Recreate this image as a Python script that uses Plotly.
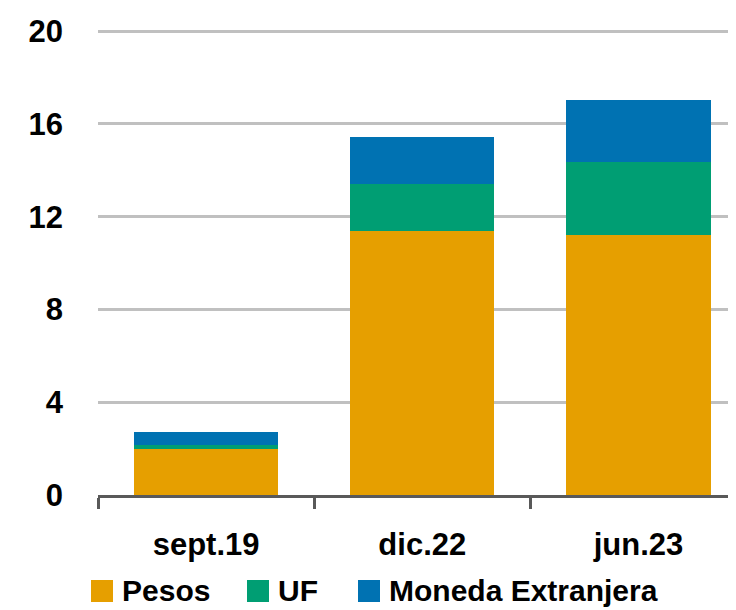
import plotly.graph_objects as go

periodos = ["sept.19", "dic.22", "jun.23"]
pesos = [2.0, 11.4, 11.2]
uf = [0.15, 2.0, 3.15]
moneda_extranjera = [0.57, 2.05, 2.7]
y_ticks = [0, 4, 8, 12, 16, 20]

font_fam = "Liberation Sans"
W, H = 736, 610
OFF = 8  # page body margin shifts the figure in the screenshot
L, R, T, B = 90, 8, 22, 123
pw, ph = W - L - R, H - T - B


def px_x(px):
    return (px - OFF - L) / pw


def px_y(py):
    return (H - B - (py - OFF)) / ph


series = [
    ("Pesos", pesos, "#E69F00"),
    ("UF", uf, "#009E73"),
    ("Moneda Extranjera", moneda_extranjera, "#0072B2"),
]

fig = go.Figure()
for name, vals, color in series:
    fig.add_trace(go.Bar(x=periodos, y=vals, name=name, marker_color=color,
                         marker_line_width=0, width=0.667, showlegend=False))

# hand-made legend below the chart (bigger swatches than plotly's own)
legend_x = [91, 247, 358]
for (name, vals, color), lx in zip(series, legend_x):
    fig.add_shape(type="rect", xref="paper", yref="paper",
                  x0=px_x(lx), x1=px_x(lx + 22), y0=px_y(602), y1=px_y(580),
                  fillcolor=color, line_width=0, layer="above")
    fig.add_annotation(xref="paper", yref="paper", x=px_x(lx + 29), y=px_y(590),
                       text="<b>" + name + "</b>", showarrow=False,
                       xanchor="left", yanchor="middle",
                       font=dict(family=font_fam, size=30, color="black"))

fig.update_layout(
    barmode="stack",
    width=W, height=H,
    margin=dict(l=L, r=R, t=T, b=B),
    plot_bgcolor="white", paper_bgcolor="white",
    font=dict(family=font_fam, size=31, color="black"),
    showlegend=False,
)
fig.update_xaxes(
    range=[-0.5, 2.451], automargin=False,
    showline=True, linecolor="#595959", linewidth=3,
    ticks="outside", tickson="boundaries", ticklen=11, tickwidth=3, tickcolor="#595959",
    ticklabelstandoff=20,
    tickfont=dict(family=font_fam, size=31, color="black", weight="bold"),
    showgrid=False,
)
fig.update_yaxes(
    range=[0, 20.05], tickvals=y_ticks, automargin=False,
    showgrid=True, gridcolor="#C0C0C0", gridwidth=2.5,
    zeroline=False, showline=False, ticks="",
    ticklabelstandoff=34,
    tickfont=dict(family=font_fam, size=31, color="black", weight="bold"),
)

fig.write_html("out.html")
